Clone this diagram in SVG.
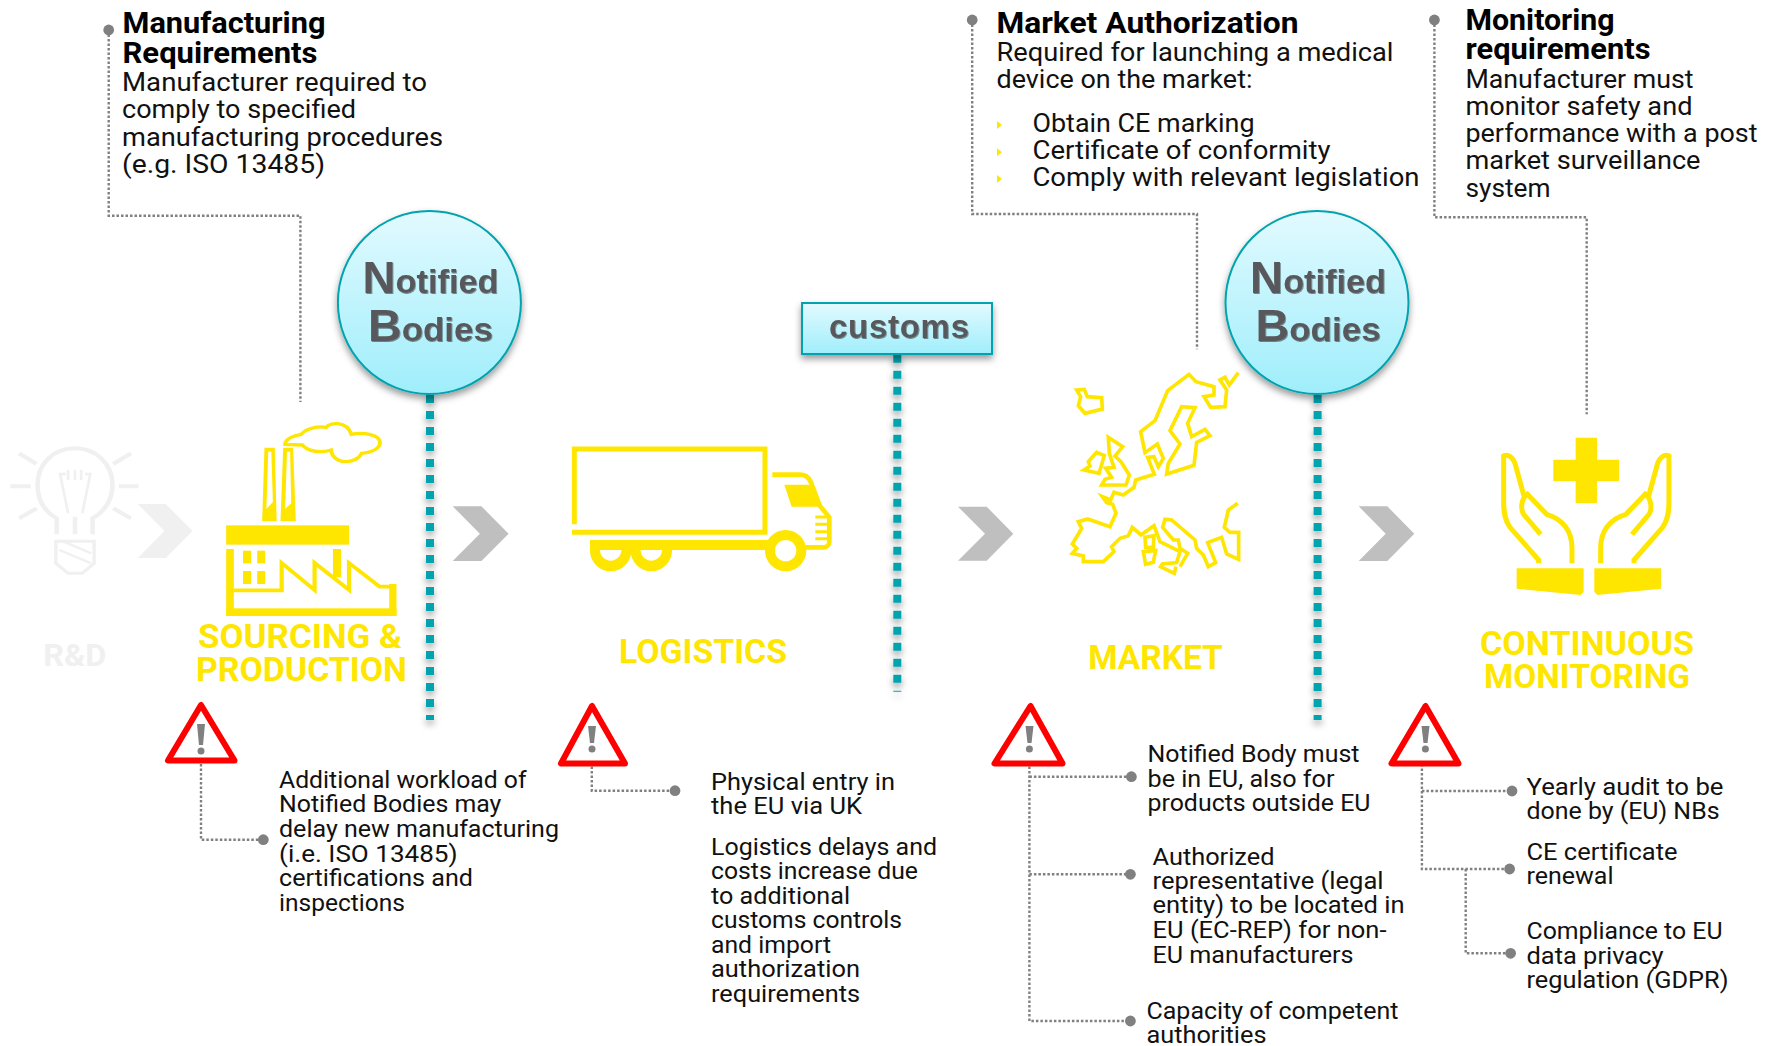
<svg xmlns="http://www.w3.org/2000/svg" width="1779" height="1046" viewBox="0 0 1779 1046">
<style>
text{font-family:Roboto,"Liberation Sans",sans-serif;fill:#111}
.t{font-size:29px;font-weight:700;fill:#000}
.b{font-size:25px;font-weight:400}
.s{font-size:23px;font-weight:400}
.y{font-size:33px;font-weight:700;fill:#FFE600}
.big,.sm{font-family:"Liberation Sans",Arial,sans-serif;font-weight:700;fill:#58595B}
.big{font-size:44px}.sm{font-size:33px}
.lead{fill:none;stroke:#808080;stroke-width:2.4;stroke-dasharray:2.5 2}
.dot{fill:#808080}
.teal{stroke:#00A3AE;stroke-width:8;stroke-dasharray:8 8;fill:none}
.yl{fill:none;stroke:#FFE600;stroke-linejoin:miter}
.yf{fill:#FFE600}
.lg{fill:none;stroke:#F0F0F0;stroke-width:12}
.chev{fill:#BFBFBF}
.tri{fill:#fff;stroke:#FF0000;stroke-width:6;stroke-linejoin:round}
.ex{fill:#808080}
.bul{fill:#FFE600}
</style>
<defs>
<linearGradient id="g" x1="0" y1="0" x2="0" y2="1"><stop offset="0" stop-color="#E2FAFF"/><stop offset="1" stop-color="#9FEEFB"/></linearGradient>
<filter id="sh" filterUnits="userSpaceOnUse" x="0" y="0" width="1779" height="1046"><feDropShadow dx="0" dy="4" stdDeviation="3.5" flood-color="#000" flood-opacity=".4"/></filter>
<filter id="ts" x="-10%" y="-10%" width="120%" height="130%"><feDropShadow dx=".8" dy="1" stdDeviation=".7" flood-color="#000" flood-opacity=".45"/></filter>
</defs>
<g id="connectors">
<path class="lead" d="M108.7 30V215.7H300.4V402"/>
<path class="lead" d="M972.2 20V214H1197V349.3"/>
<path class="lead" d="M1434.4 20V217.3H1586.7V414.3"/>
<path class="lead" d="M201 764V839.7H263"/>
<path class="lead" d="M591.8 762V790.7H675"/>
<path class="lead" d="M1029.4 753V1021H1130"/>
<path class="lead" d="M1029.4 776.7H1131"/>
<path class="lead" d="M1029.4 874.3H1130"/>
<path class="lead" d="M1421.9 764V869H1509"/>
<path class="lead" d="M1421.9 791H1512"/>
<path class="lead" d="M1465.7 869V953.3H1510"/>
<circle class="dot" cx="108.7" cy="30" r="5.4"/><circle class="dot" cx="972.2" cy="20" r="5.4"/><circle class="dot" cx="1434.4" cy="20" r="5.4"/>
<circle class="dot" cx="263.3" cy="839.7" r="5.4"/><circle class="dot" cx="675" cy="790.7" r="5.4"/>
<circle class="dot" cx="1131.4" cy="776.7" r="5.4"/><circle class="dot" cx="1130.4" cy="874.3" r="5.4"/><circle class="dot" cx="1130.4" cy="1021" r="5.4"/>
<circle class="dot" cx="1512" cy="791" r="5.4"/><circle class="dot" cx="1509.6" cy="869" r="5.4"/><circle class="dot" cx="1510.6" cy="953.3" r="5.4"/>
<g filter="url(#sh)">
<path class="teal" d="M430 395V720"/>
<path class="teal" d="M897.3 354.7V691.7"/>
<path class="teal" d="M1317.6 395V720"/>
</g>
</g>
<g id="chevrons">
<polygon fill="#F0F0F0" points="137.8,504 165.7,504 192.5,531 165.7,558 137.8,558 164.5,531"/>
<polygon class="chev" points="452.7,506.3 481.4,506.3 508.6,533.7 481.4,561 452.7,561 479.9,533.7"/>
<polygon class="chev" points="958,506.7 986.7,506.7 1013.3,533.7 986.7,560.7 958,560.7 985,533.7"/>
<polygon class="chev" points="1358.7,506.3 1387.3,506.3 1414.3,533.7 1387.3,561 1358.7,561 1385.7,533.7"/>
</g>
<g id="rd">
<g transform="translate(0 400) scale(.3827 .3333)">
<path class="lg" d="M148 403V355C110 330 98 290 98 255C98 190 140 145 196 145C250 145 294 190 294 255C294 290 280 330 242 355V403M196 350V403M50 160L95 192M342 160L296 192M27 259H80M311 259H362M50 355L96 325M342 355L296 325"/>
<path class="lg" style="stroke-width:7" d="M178 340L157 222H172M215 340L236 222H222M178 210V240M196 210V240M212 210V240M160 422L238 460M155 450L238 490"/>
<path class="lg" style="stroke-width:9" d="M146 424H246V490L215 520H178L146 490Z"/>
</g>
<text class="y" x="43.2" y="665.7" style="fill:#F0F0F0;font-size:31px" textLength="63.2" lengthAdjust="spacingAndGlyphs">R&amp;D</text>
</g>
<g id="sourcing">
<g transform="translate(0 400) scale(.3827 .3333)">
<path class="yf" fill-rule="evenodd" d="M691 143H718L723 363H685ZM701 155L696 327L713 306L709 155Z"/>
<path class="yf" fill-rule="evenodd" d="M740 143H766L773 363H733ZM750 155L745 327L761 310L758 155Z"/>
<rect class="yf" x="591" y="376" width="321" height="58"/>
<rect class="yf" x="591" y="447" width="20" height="201"/>
<rect class="yf" x="591" y="625" width="445" height="23"/>
<rect class="yf" x="1017" y="552" width="19" height="96"/>
<rect class="yf" x="870" y="447" width="21" height="85"/>
<rect class="yf" x="635" y="452" width="21" height="38"/><rect class="yf" x="672" y="452" width="21" height="38"/>
<rect class="yf" x="635" y="513" width="21" height="39"/><rect class="yf" x="672" y="513" width="21" height="39"/>
<polyline class="yl" stroke-width="11" points="611,571 736,571 736,489 822,570 822,489 912,570 912,489 992,560 1030,560"/>
<path class="yl" stroke-width="10" d="M745 133C745 115 770 107 787 103C800 85 830 78 852 82C860 68 905 60 918 103C950 95 995 105 993 130C990 150 965 158 945 160C930 195 870 195 865 150C840 160 805 155 790 135Z"/>
</g>
<text class="y" x="198" y="647.7" textLength="204" lengthAdjust="spacingAndGlyphs">SOURCING &amp;</text>
<text class="y" x="196" y="680.7" textLength="211" lengthAdjust="spacingAndGlyphs">PRODUCTION</text>
</g>
<g id="nb1" filter="url(#sh)">
<circle cx="429.4" cy="302.5" r="91.5" fill="url(#g)" stroke="#00A3AE" stroke-width="2"/>
</g>
<g id="nb1-label" filter="url(#ts)">
<text x="362.5" y="293.3" textLength="136" lengthAdjust="spacingAndGlyphs"><tspan class="big">N</tspan><tspan class="sm">otified</tspan></text>
<text x="368" y="341" textLength="125" lengthAdjust="spacingAndGlyphs"><tspan class="big">B</tspan><tspan class="sm">odies</tspan></text>
</g>
<g id="logistics">
<g transform="translate(540 290) scale(.3333)">
<path class="yl" stroke-width="15" d="M103 703V477H675V727H96"/>
<rect class="yf" x="150" y="750" width="550" height="30"/>
<path class="yf" fill-rule="evenodd" d="M150 775H274V782A62 62 0 0 1 150 782ZM180 780A32 32 0 0 0 244 780Z"/>
<path class="yf" fill-rule="evenodd" d="M272 775H396V782A62 62 0 0 1 272 782ZM302 780A32 32 0 0 0 366 780Z"/>
<path class="yf" fill-rule="evenodd" d="M675 782A62 62 0 1 1 799 782A62 62 0 1 1 675 782ZM705 782A32 32 0 1 0 769 782A32 32 0 1 0 705 782Z"/>
<path class="yl" stroke-width="14" d="M697 554H780C795 554 806 562 812 575L840 648L868 682V755C868 765 860 772 850 772H795"/>
<polygon class="yf" points="733,584 808,584 840,650 755,650"/>
<path class="yl" stroke-width="9" d="M826 681H862M826 703H862M826 725H862M826 746H862"/>
</g>
<text class="y" x="619" y="663.3" textLength="168" lengthAdjust="spacingAndGlyphs">LOGISTICS</text>
</g>
<g id="customs">
<g filter="url(#sh)"><rect x="802" y="303" width="190" height="51" fill="url(#g)" stroke="#00A3AE" stroke-width="2"/></g>
<text x="829" y="337.7" textLength="140" lengthAdjust="spacing" class="sm" style="font-size:33px" filter="url(#ts)">customs</text>
</g>
<g id="market">
<g transform="translate(1040 340) scale(.3333)" class="yl" stroke-width="11">
<polyline points="595,98 568,135 555,112 540,120 560,150 555,200 512,202 492,170 522,165 522,140 468,125 447,103 383,152 345,242 302,275 315,338 352,312 370,355 355,380 342,350 323,352 343,403 287,420 282,442 250,465 222,457 212,480 187,470 200,488 218,493 228,520 210,560 143,537 115,545 125,565 97,612 110,625 97,640 130,648 130,665 190,665 222,635 215,620 240,595 265,587 277,562 303,585 342,557 360,605 420,635 410,668 367,672 362,680 403,700 408,680"/>
<polyline points="420,680 443,640 420,625 415,600 400,600 368,562 375,538 395,540 465,600 470,625 490,645 505,680 527,668 503,608 545,592 560,642 596,658 596,577 570,577 553,562 565,510 593,490"/>
<polygon points="380,402 385,370 420,312 390,272 425,200 465,203 443,250 455,290 495,268 510,287 470,307 462,376"/>
<polygon points="110,150 133,148 142,170 185,173 187,207 135,220 115,197 122,170"/>
<polygon points="205,292 248,320 225,348 243,365 268,405 258,435 185,435 195,418 215,412 197,385 222,382 208,340"/>
<polygon points="170,337 193,347 177,400 132,390 150,378 145,365"/>
<polygon points="315,592 342,587 340,622 317,622"/>
<polygon points="310,635 347,632 340,667 317,673"/>
</g>
<text class="y" x="1088.3" y="669" textLength="134.4" lengthAdjust="spacingAndGlyphs">MARKET</text>
</g>
<g id="nb2" filter="url(#sh)">
<circle cx="1317" cy="302.5" r="91.5" fill="url(#g)" stroke="#00A3AE" stroke-width="2"/>
</g>
<g id="nb2-label" filter="url(#ts)">
<text x="1250.1" y="293.3" textLength="136" lengthAdjust="spacingAndGlyphs"><tspan class="big">N</tspan><tspan class="sm">otified</tspan></text>
<text x="1255.6" y="341" textLength="125" lengthAdjust="spacingAndGlyphs"><tspan class="big">B</tspan><tspan class="sm">odies</tspan></text>
</g>
<g id="monitoring">
<g transform="translate(1340 420) scale(.3333)">
<polygon class="yf" points="707,53 771,53 771,119 837,119 837,183 771,183 771,249 707,249 707,183 640,183 640,119 707,119"/>
<path class="yf" d="M530 445H731V515L722 525L530 506Z"/>
<path class="yf" d="M963 445H763V515L772 525L963 506Z"/>
<g id="hand" fill="none" stroke="#FFE600" stroke-width="15">
<path d="M596 430V420L510 322C495 300 491 280 491 245V108C505 100 520 115 525 130L552 228"/>
<path d="M602 343L551 283C540 265 545 235 562 222L620 283C670 297 696 335 696 385V430"/>
</g>
<g fill="none" stroke="#FFE600" stroke-width="15" transform="translate(1478 0) scale(-1 1)">
<path d="M596 430V420L510 322C495 300 491 280 491 245V108C505 100 520 115 525 130L552 228"/>
<path d="M602 343L551 283C540 265 545 235 562 222L620 283C670 297 696 335 696 385V430"/>
</g>
</g>
<text class="y" x="1480" y="655" textLength="214" lengthAdjust="spacingAndGlyphs">CONTINUOUS</text>
<text class="y" x="1484" y="687.7" textLength="206" lengthAdjust="spacingAndGlyphs">MONITORING</text>
</g>
<g id="req-manufacturing">
<text class="t" x="122.5" y="32.7" textLength="203" lengthAdjust="spacingAndGlyphs">Manufacturing</text>
<text class="t" x="122.5" y="62.7" textLength="195" lengthAdjust="spacingAndGlyphs">Requirements</text>
<text class="b" x="122" y="90.7" textLength="305" lengthAdjust="spacingAndGlyphs">Manufacturer required to</text>
<text class="b" x="122" y="118.3" textLength="234" lengthAdjust="spacingAndGlyphs">comply to specified</text>
<text class="b" x="122" y="145.7" textLength="321" lengthAdjust="spacingAndGlyphs">manufacturing procedures</text>
<text class="b" x="122" y="172.7" textLength="203" lengthAdjust="spacingAndGlyphs">(e.g. ISO 13485)</text>
</g>
<g id="req-market">
<text class="t" x="1001" y="32.7" textLength="302" lengthAdjust="spacingAndGlyphs" dx="-4.5">Market Authorization</text>
<text class="b" x="996.5" y="61" textLength="397" lengthAdjust="spacingAndGlyphs">Required for launching a medical</text>
<text class="b" x="996.5" y="88.3" textLength="256" lengthAdjust="spacingAndGlyphs">device on the market:</text>
<polygon class="bul" points="997,121 1002,125 997,129"/>
<polygon class="bul" points="997,148.3 1002,152.3 997,156.3"/>
<polygon class="bul" points="997,175 1002,179 997,183"/>
<text class="b" x="1032.5" y="131.7" textLength="222" lengthAdjust="spacingAndGlyphs">Obtain CE marking</text>
<text class="b" x="1032.5" y="159" textLength="298" lengthAdjust="spacingAndGlyphs">Certificate of conformity</text>
<text class="b" x="1032.5" y="186" textLength="387" lengthAdjust="spacingAndGlyphs">Comply with relevant legislation</text>
</g>
<g id="req-monitoring">
<text class="t" x="1465.5" y="30" textLength="149" lengthAdjust="spacingAndGlyphs">Monitoring</text>
<text class="t" x="1465.5" y="59.3" textLength="185" lengthAdjust="spacingAndGlyphs">requirements</text>
<text class="b" x="1465.5" y="87.7" textLength="228" lengthAdjust="spacingAndGlyphs">Manufacturer must</text>
<text class="b" x="1465.5" y="115" textLength="227" lengthAdjust="spacingAndGlyphs">monitor safety and</text>
<text class="b" x="1465.5" y="142.3" textLength="292" lengthAdjust="spacingAndGlyphs">performance with a post</text>
<text class="b" x="1465.5" y="169.3" textLength="235" lengthAdjust="spacingAndGlyphs">market surveillance</text>
<text class="b" x="1465.5" y="196.7" textLength="85" lengthAdjust="spacingAndGlyphs">system</text>
</g>
<g id="warn1">
<path class="tri" d="M201 705L168 760.5H234.5Z"/>
<path class="ex" d="M197 724H205L203 745H199Z"/><circle class="ex" cx="201" cy="751" r="3.5"/>
<text class="s" x="279" y="787.7" textLength="247.5" lengthAdjust="spacingAndGlyphs">Additional workload of</text>
<text class="s" x="279" y="812.3" textLength="222.4" lengthAdjust="spacingAndGlyphs">Notified Bodies may</text>
<text class="s" x="279" y="837" textLength="280" lengthAdjust="spacingAndGlyphs">delay new manufacturing</text>
<text class="s" x="279" y="861.7" textLength="178.6" lengthAdjust="spacingAndGlyphs">(i.e. ISO 13485)</text>
<text class="s" x="279" y="886" textLength="194" lengthAdjust="spacingAndGlyphs">certifications and</text>
<text class="s" x="279" y="910.7" textLength="126" lengthAdjust="spacingAndGlyphs">inspections</text>
</g>
<g id="warn2">
<path class="tri" d="M592 706L561 763.5H625Z"/>
<path class="ex" d="M588 726H596L594 743H590Z"/><circle class="ex" cx="592" cy="749" r="3.5"/>
<text class="s" x="711" y="790" textLength="184" lengthAdjust="spacingAndGlyphs">Physical entry in</text>
<text class="s" x="711" y="814" textLength="151" lengthAdjust="spacingAndGlyphs">the EU via UK</text>
<text class="s" x="711" y="855" textLength="226" lengthAdjust="spacingAndGlyphs">Logistics delays and</text>
<text class="s" x="711" y="879.3" textLength="207" lengthAdjust="spacingAndGlyphs">costs increase due</text>
<text class="s" x="711" y="904" textLength="139" lengthAdjust="spacingAndGlyphs">to additional</text>
<text class="s" x="711" y="928.3" textLength="191" lengthAdjust="spacingAndGlyphs">customs controls</text>
<text class="s" x="711" y="953" textLength="120" lengthAdjust="spacingAndGlyphs">and import</text>
<text class="s" x="711" y="977.3" textLength="149" lengthAdjust="spacingAndGlyphs">authorization</text>
<text class="s" x="711" y="1002" textLength="149" lengthAdjust="spacingAndGlyphs">requirements</text>
</g>
<g id="warn3">
<path class="tri" d="M1034 706L998 763.5H1066Z" transform="translate(-3.5 0)"/>
<path class="ex" d="M1025.5 726H1033.5L1031.5 743H1027.5Z"/><circle class="ex" cx="1029.4" cy="749" r="3.5"/>
<text class="s" x="1147.5" y="762.3" textLength="212" lengthAdjust="spacingAndGlyphs">Notified Body must</text>
<text class="s" x="1147.5" y="786.7" textLength="187" lengthAdjust="spacingAndGlyphs">be in EU, also for</text>
<text class="s" x="1147.5" y="810.7" textLength="223" lengthAdjust="spacingAndGlyphs">products outside EU</text>
<text class="s" x="1152.5" y="864.7" textLength="122" lengthAdjust="spacingAndGlyphs">Authorized</text>
<text class="s" x="1152.5" y="889" textLength="231" lengthAdjust="spacingAndGlyphs">representative (legal</text>
<text class="s" x="1152.5" y="913.3" textLength="252" lengthAdjust="spacingAndGlyphs">entity) to be located in</text>
<text class="s" x="1152.5" y="937.7" textLength="234" lengthAdjust="spacingAndGlyphs">EU (EC-REP) for non-</text>
<text class="s" x="1152.5" y="962.7" textLength="201" lengthAdjust="spacingAndGlyphs">EU manufacturers</text>
<text class="s" x="1146.5" y="1019" textLength="252" lengthAdjust="spacingAndGlyphs">Capacity of competent</text>
<text class="s" x="1146.5" y="1043.3" textLength="120" lengthAdjust="spacingAndGlyphs">authorities</text>
</g>
<g id="warn4">
<path class="tri" d="M1429 706L1395 763.5H1462Z" transform="translate(-3.5 0)"/>
<path class="ex" d="M1421.5 726H1429.5L1427.5 743H1423.5Z"/><circle class="ex" cx="1425.4" cy="749" r="3.5"/>
<text class="s" x="1526.5" y="795" textLength="197" lengthAdjust="spacingAndGlyphs">Yearly audit to be</text>
<text class="s" x="1526.5" y="819" textLength="193" lengthAdjust="spacingAndGlyphs">done by (EU) NBs</text>
<text class="s" x="1526.5" y="860" textLength="151" lengthAdjust="spacingAndGlyphs">CE certificate</text>
<text class="s" x="1526.5" y="884" textLength="87" lengthAdjust="spacingAndGlyphs">renewal</text>
<text class="s" x="1526.5" y="939" textLength="196" lengthAdjust="spacingAndGlyphs">Compliance to EU</text>
<text class="s" x="1526.5" y="964" textLength="137" lengthAdjust="spacingAndGlyphs">data privacy</text>
<text class="s" x="1526.5" y="987.7" textLength="202" lengthAdjust="spacingAndGlyphs">regulation (GDPR)</text>
</g>
</svg>
